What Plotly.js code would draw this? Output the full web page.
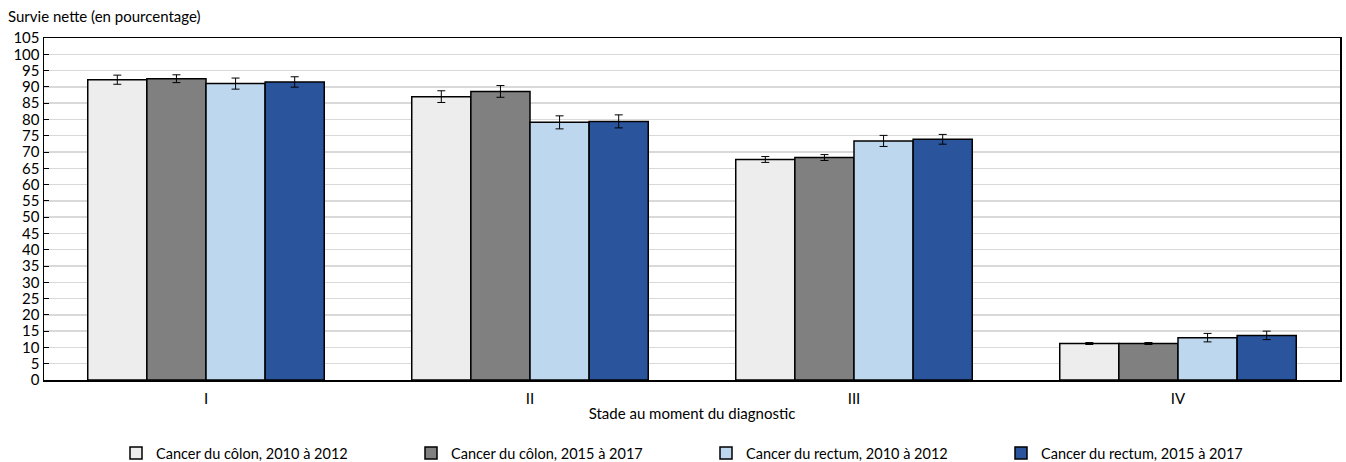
<!DOCTYPE html>
<html>
<head>
<meta charset="utf-8">
<script src="https://cdn.plot.ly/plotly-3.0.1.min.js"></script>
<style>html,body{margin:0;padding:0;background:#fff;}#chart{width:1346px;height:462px;}</style>
</head>
<body>
<div id="chart"></div>
<script>
var categories = ["I", "II", "III", "IV"];
var seriesNames = ["Cancer du côlon, 2010 à 2012", "Cancer du côlon, 2015 à 2017", "Cancer du rectum, 2010 à 2012", "Cancer du rectum, 2015 à 2017"];
var colon2010 = [92.2, 87.0, 67.7, 11.2];
var colon2015 = [92.5, 88.6, 68.3, 11.2];
var rectum2010 = [91.0, 79.1, 73.4, 13.0];
var rectum2015 = [91.5, 79.4, 73.9, 13.7];
var colon2010Err = [1.4, 1.8, 0.9, 0.3];
var colon2015Err = [1.2, 1.8, 0.9, 0.3];
var rectum2010Err = [1.7, 2.0, 1.7, 1.3];
var rectum2015Err = [1.6, 2.0, 1.5, 1.3];
var yTicks = [0,5,10,15,20,25,30,35,40,45,50,55,60,65,70,75,80,85,90,95,100,105];

var values = [colon2010, colon2015, rectum2010, rectum2015];
var errs = [colon2010Err, colon2015Err, rectum2010Err, rectum2015Err];
var colors = ["#ededed", "#808080", "#bdd7ee", "#2a549c"];
var font = "Lato, 'Open Sans', sans-serif";

var traces = values.map(function(v, i){
  return {
    type: "bar",
    x: categories,
    y: v,
    name: seriesNames[i],
    marker: {color: colors[i], line: {color: "#000", width: 1.5}},
    error_y: {type: "data", array: errs[i], visible: true, color: "#000", thickness: 1, width: 4},
    hoverinfo: "y+name"
  };
});

var layout = {
  width: 1346, height: 462,
  margin: {l: 44, r: 6, t: 38, b: 82, autoexpand: false},
  paper_bgcolor: "#fff", plot_bgcolor: "#fff",
  font: {family: font, size: 15, color: "#000"},
  barmode: "group",
  bargap: 0.27,
  bargroupgap: 0,
  title: {text: "Survie nette (en pourcentage)", xref: "container", yref: "container", x: 8/1346, xanchor: "left", y: 1 - 17/462, yanchor: "middle", font: {family: font, size: 15, color: "#000"}},
  xaxis: {
    type: "category",
    showline: true, linecolor: "#000", linewidth: 1.5, mirror: true,
    ticks: "", tickfont: {size: 15}, ticklabelstandoff: 4,
    title: {text: "Stade au moment du diagnostic", font: {size: 15}, standoff: 3}
  },
  yaxis: {
    range: [0, 105], tickvals: yTicks, ticktext: yTicks.map(String),
    showgrid: true, gridcolor: "#d9d9d9", gridwidth: 1.5,
    showline: true, linecolor: "#000", linewidth: 1.5, mirror: true,
    ticks: "inside", ticklen: 5, tickcolor: "#000",
    zeroline: false, tickfont: {size: 15}
  },
  legend: {orientation: "h", xref: "container", yref: "container", x: 116/1346, xanchor: "left", y: 9/462, yanchor: "middle",
    entrywidth: 250, font: {size: 14.5}, itemwidth: 30, traceorder: "normal"},
  showlegend: true
};

Plotly.newPlot("chart", traces, layout, {displayModeBar: false, staticPlot: true});
</script>
</body>
</html>
